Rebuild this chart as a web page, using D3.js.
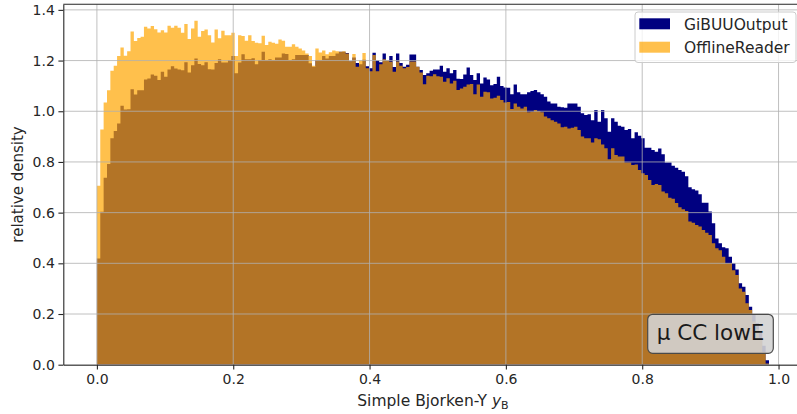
<!DOCTYPE html>
<html>
<head>
<meta charset="utf-8">
<script src="https://cdn.jsdelivr.net/npm/d3@7/dist/d3.min.js"></script>
<style>
  body { margin: 0; background: #fff; }
  svg { display: block; font-family: "DejaVu Sans", sans-serif; }
</style>
</head>
<body>
<svg id="chart" width="797" height="414"></svg>
<script>
// Histogram of the simple Bjorken-y variable, two generators compared.
const seriesNames = ["GiBUUOutput", "OfflineReader"];
const seriesColors = ["#000080", "#ffa500"];
const xTicks = [0.0, 0.2, 0.4, 0.6, 0.8, 1.0];
const yTicks = [0.0, 0.2, 0.4, 0.6, 0.8, 1.0, 1.2, 1.4];
const binRange = [0, 0.986];   // 200 equal bins over this range

// relative density per bin, GiBUUOutput
const gibuu = [
  0.419, 0.603, 0.738, 0.792, 0.893, 0.922, 0.952, 1.022, 1.007, 1.008,
  1.087, 1.066, 1.083, 1.083, 1.125, 1.129, 1.145, 1.140, 1.123, 1.156,
  1.136, 1.165, 1.178, 1.169, 1.165, 1.162, 1.193, 1.153, 1.182, 1.208,
  1.186, 1.182, 1.193, 1.166, 1.165, 1.190, 1.205, 1.192, 1.192, 1.202,
  1.218, 1.150, 1.192, 1.225, 1.205, 1.205, 1.209, 1.185, 1.202, 1.235,
  1.202, 1.205, 1.202, 1.212, 1.212, 1.228, 1.226, 1.202, 1.205, 1.222,
  1.222, 1.222, 1.222, 1.189, 1.176, 1.202, 1.202, 1.218, 1.208, 1.218,
  1.218, 1.228, 1.235, 1.235, 1.230, 1.197, 1.212, 1.190, 1.185, 1.203,
  1.178, 1.170, 1.231, 1.200, 1.193, 1.228, 1.200, 1.218, 1.175, 1.228,
  1.190, 1.176, 1.183, 1.224, 1.224, 1.176, 1.163, 1.143, 1.150, 1.160,
  1.165, 1.165, 1.180, 1.156, 1.170, 1.150, 1.163, 1.128, 1.127, 1.145,
  1.173, 1.143, 1.123, 1.150, 1.110, 1.133, 1.125, 1.103, 1.108, 1.136,
  1.100, 1.094, 1.093, 1.067, 1.106, 1.075, 1.067, 1.067, 1.075, 1.080,
  1.084, 1.075, 1.067, 1.057, 1.038, 1.031, 1.031, 1.018, 1.016, 1.014,
  1.031, 1.031, 1.031, 1.018, 0.992, 0.985, 0.988, 0.965, 1.005, 0.959,
  1.005, 0.972, 0.919, 0.972, 0.959, 0.943, 0.939, 0.926, 0.930, 0.893,
  0.917, 0.903, 0.893, 0.856, 0.856, 0.847, 0.840, 0.853, 0.830, 0.798,
  0.798, 0.785, 0.777, 0.768, 0.761, 0.744, 0.700, 0.692, 0.687, 0.673,
  0.639, 0.639, 0.604, 0.558, 0.498, 0.479, 0.463, 0.459, 0.426, 0.400,
  0.376, 0.321, 0.308, 0.275, 0.229, 0.196, 0.165, 0.125, 0.075, 0.018
];

// relative density per bin, OfflineReader
const offline = [
  0.706, 0.928, 1.035, 1.083, 1.160, 1.180, 1.218, 1.252, 1.219, 1.237,
  1.315, 1.277, 1.289, 1.294, 1.333, 1.327, 1.336, 1.324, 1.311, 1.320,
  1.311, 1.337, 1.329, 1.337, 1.329, 1.310, 1.344, 1.285, 1.327, 1.357,
  1.294, 1.317, 1.323, 1.300, 1.271, 1.323, 1.288, 1.318, 1.300, 1.300,
  1.310, 1.218, 1.300, 1.297, 1.278, 1.300, 1.277, 1.270, 1.268, 1.298,
  1.261, 1.274, 1.270, 1.266, 1.283, 1.278, 1.255, 1.255, 1.264, 1.255,
  1.248, 1.240, 1.228, 1.218, 1.180, 1.248, 1.232, 1.240, 1.225, 1.233,
  1.240, 1.237, 1.235, 1.237, 1.228, 1.197, 1.226, 1.176, 1.200, 1.230,
  1.170, 1.158, 1.222, 1.158, 1.185, 1.205, 1.200, 1.195, 1.156, 1.196,
  1.180, 1.170, 1.175, 1.196, 1.196, 1.176, 1.153, 1.107, 1.140, 1.138,
  1.146, 1.138, 1.136, 1.116, 1.130, 1.110, 1.120, 1.084, 1.090, 1.097,
  1.106, 1.108, 1.067, 1.106, 1.057, 1.077, 1.075, 1.050, 1.053, 1.061,
  1.044, 1.035, 1.037, 1.009, 1.031, 1.018, 1.011, 1.018, 0.996, 0.998,
  1.005, 1.000, 0.996, 0.979, 0.972, 0.965, 0.959, 0.952, 0.937, 0.939,
  0.932, 0.935, 0.939, 0.926, 0.900, 0.893, 0.893, 0.877, 0.893, 0.890,
  0.869, 0.854, 0.811, 0.854, 0.827, 0.821, 0.821, 0.798, 0.798, 0.788,
  0.790, 0.768, 0.755, 0.748, 0.729, 0.709, 0.713, 0.709, 0.683, 0.676,
  0.659, 0.655, 0.638, 0.621, 0.613, 0.606, 0.565, 0.560, 0.551, 0.545,
  0.531, 0.521, 0.512, 0.479, 0.459, 0.452, 0.426, 0.400, 0.400, 0.373,
  0.354, 0.301, 0.288, 0.242, 0.216, 0.170, 0.140, 0.100, 0.050, 0.005
];

const plot = { left: 63.3, top: 4.3, right: 802.6, bottom: 364.7 };
const span = binRange[1] - binRange[0];
const pad = 0.05 * span;
const binW = span / gibuu.length;

const x = d3.scaleLinear()
  .domain([binRange[0] - pad, binRange[1] + pad])
  .range([plot.left, plot.right]);
const y = d3.scaleLinear()
  .domain([0, 1.422])
  .range([plot.bottom, plot.top]);

const svg = d3.select("#chart");

svg.append("defs").append("clipPath").attr("id", "plot-clip")
  .append("rect")
  .attr("x", plot.left).attr("y", plot.top)
  .attr("width", plot.right - plot.left).attr("height", plot.bottom - plot.top);

// step outline of a histogram: one point per bin edge
function stepPoints(values) {
  const pts = values.map((v, i) => ({ e: binRange[0] + i * binW, v }));
  pts.push({ e: binRange[1], v: values[values.length - 1] });
  return pts;
}
const area = d3.area()
  .x(d => x(d.e))
  .y0(y(0))
  .y1(d => y(d.v))
  .curve(d3.curveStepAfter);

const bars = svg.append("g").attr("clip-path", "url(#plot-clip)");
bars.append("path")
  .attr("d", area(stepPoints(gibuu)))
  .attr("fill", seriesColors[0]);
bars.append("path")
  .attr("d", area(stepPoints(offline)))
  .attr("fill", seriesColors[1])
  .attr("fill-opacity", 0.7);

// grid lines, drawn above the bars
const grid = svg.append("g").attr("clip-path", "url(#plot-clip)")
  .attr("stroke", "#b0b0b0").attr("stroke-width", 0.8);
grid.selectAll("line.gx").data(xTicks).join("line")
  .attr("x1", d => x(d)).attr("x2", d => x(d))
  .attr("y1", plot.top).attr("y2", plot.bottom);
grid.selectAll("line.gy").data(yTicks).join("line")
  .attr("x1", plot.left).attr("x2", plot.right)
  .attr("y1", d => y(d)).attr("y2", d => y(d));

// axes
const fmt = d3.format(".1f");
const xAxis = svg.append("g")
  .attr("transform", `translate(0,${plot.bottom})`)
  .call(d3.axisBottom(x).tickValues(xTicks).tickFormat(fmt)
    .tickSize(4.9).tickSizeOuter(0).tickPadding(4.4));
const yAxis = svg.append("g")
  .attr("transform", `translate(${plot.left},0)`)
  .call(d3.axisLeft(y).tickValues(yTicks).tickFormat(fmt)
    .tickSize(4.9).tickSizeOuter(0).tickPadding(3.6));
[xAxis, yAxis].forEach(g => {
  g.select(".domain").attr("stroke", "#262626").attr("stroke-width", 1.1);
  g.selectAll(".tick line").attr("stroke", "#262626").attr("stroke-width", 1.1);
  g.selectAll(".tick text").attr("fill", "#262626")
    .style("font-size", "14px").style("font-family", "DejaVu Sans, sans-serif");
});

// top and right spines
svg.append("line")
  .attr("x1", plot.left).attr("x2", plot.right)
  .attr("y1", plot.top).attr("y2", plot.top)
  .attr("stroke", "#262626").attr("stroke-width", 1.1);
svg.append("line")
  .attr("x1", plot.right).attr("x2", plot.right)
  .attr("y1", plot.top).attr("y2", plot.bottom)
  .attr("stroke", "#262626").attr("stroke-width", 1.1);

// axis titles
const xLabel = svg.append("text")
  .attr("x", (plot.left + plot.right) / 2).attr("y", 406)
  .attr("text-anchor", "middle").attr("fill", "#262626")
  .style("font-size", "15.5px");
xLabel.append("tspan").text("Simple Bjorken-Y ");
xLabel.append("tspan").style("font-style", "italic").text("y");
xLabel.append("tspan").attr("dy", 2.5).style("font-size", "11px").text("B");

svg.append("text")
  .attr("transform", `translate(23,${(plot.top + plot.bottom) / 2}) rotate(-90)`)
  .attr("text-anchor", "middle").attr("fill", "#262626")
  .style("font-size", "15px")
  .text("relative density");

// legend
const legend = svg.append("g");
legend.append("rect")
  .attr("x", 635).attr("y", 12).attr("width", 161).attr("height", 50.5)
  .attr("rx", 3).attr("fill", "#fff").attr("fill-opacity", 0.8)
  .attr("stroke", "#cccccc").attr("stroke-width", 1);
const items = legend.selectAll("g.item").data(seriesNames).join("g")
  .attr("transform", (d, i) => `translate(639.3,${18.3 + i * 23.4})`);
items.append("rect")
  .attr("width", 30.7).attr("height", 11)
  .attr("fill", (d, i) => seriesColors[i])
  .attr("fill-opacity", (d, i) => i === 1 ? 0.7 : 1);
items.append("text")
  .attr("x", 44.7).attr("y", 11.5)
  .attr("fill", "#262626").style("font-size", "15.5px")
  .text(d => d);

// sample tag
const tag = svg.append("g");
tag.append("rect")
  .attr("x", 647.7).attr("y", 314.3).attr("width", 125.6).attr("height", 39)
  .attr("rx", 5).attr("fill", "#d3d3d3").attr("fill-opacity", 0.9)
  .attr("stroke", "#4a4a4a").attr("stroke-width", 1.2);
tag.append("text")
  .attr("x", 710.5).attr("y", 339.5)
  .attr("text-anchor", "middle").attr("fill", "#1a1a1a")
  .style("font-size", "21.5px")
  .text("μ CC lowE");
</script>
</body>
</html>
